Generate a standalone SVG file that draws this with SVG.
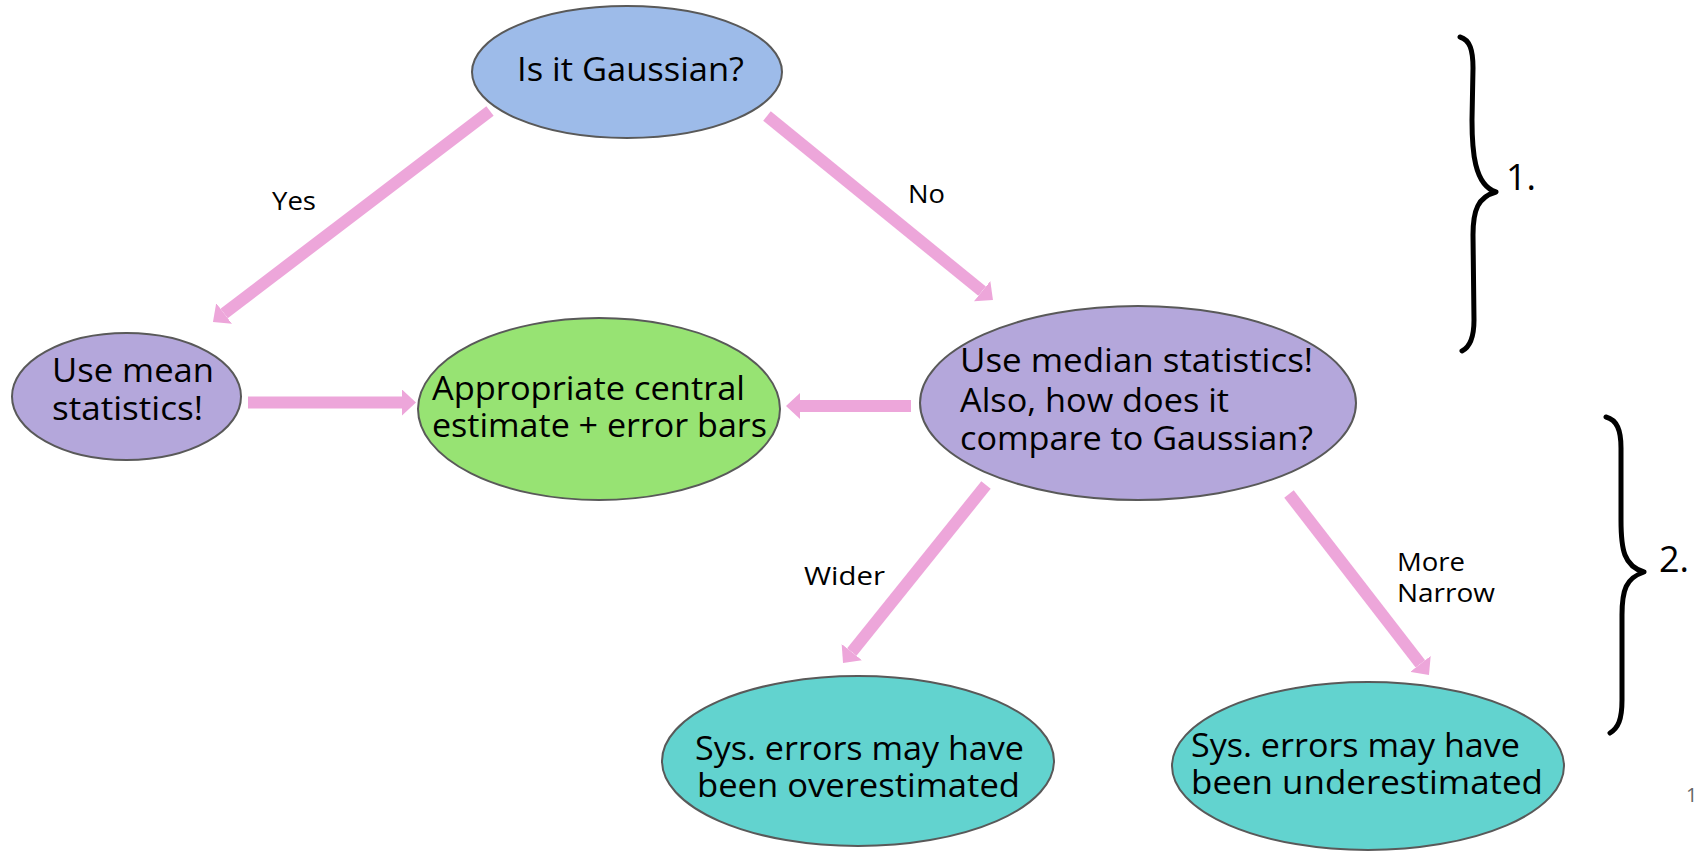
<svg xmlns="http://www.w3.org/2000/svg" width="1695" height="852" viewBox="0 0 1695 852">
<defs>
<style>
.node{stroke:#595959;stroke-width:2}
.t{font-family:"Open Sans","Liberation Sans",sans-serif;font-size:32px;fill:#000}
.lbl{font-family:"Open Sans","Liberation Sans",sans-serif;font-size:25px;fill:#000}
.conn line{stroke:#eda6da;stroke-width:12;marker-end:url(#ah)}
.brace{fill:none;stroke:#000;stroke-width:5;stroke-linecap:round;stroke-linejoin:round}
.num{font-family:"Open Sans","Liberation Sans",sans-serif;font-size:36px;fill:#000}
</style>
<marker id="ah" markerUnits="userSpaceOnUse" viewBox="0 0 14 26" markerWidth="14" markerHeight="26" refX="0" refY="13" orient="auto">
<path d="M0,0 L14,13 L0,26 z" fill="#eda6da"/>
</marker>
</defs>
<rect width="1695" height="852" fill="#fff"/>
<g id="connectors" class="conn">
<line x1="490" y1="111" x2="224.1" y2="313.5"/>
<line x1="767" y1="116" x2="982.1" y2="291.2"/>
<line x1="248" y1="402.5" x2="402" y2="402.5"/>
<line x1="911" y1="406" x2="800" y2="406"/>
<line x1="986" y1="485" x2="851.8" y2="652.1"/>
<line x1="1289" y1="494" x2="1420.4" y2="663.9"/>
</g>
<g id="edge-labels">
<text class="lbl" x="272" y="210" textLength="44" lengthAdjust="spacingAndGlyphs">Yes</text>
<text class="lbl" x="908" y="203" textLength="37" lengthAdjust="spacingAndGlyphs">No</text>
<text class="lbl" x="804" y="585" textLength="81" lengthAdjust="spacingAndGlyphs">Wider</text>
<text class="lbl" x="1397" y="571" textLength="68" lengthAdjust="spacingAndGlyphs">More</text>
<text class="lbl" x="1397" y="602" textLength="98" lengthAdjust="spacingAndGlyphs">Narrow</text>
</g>
<g id="n-gaussian">
<ellipse class="node" cx="627" cy="72" rx="155" ry="66" fill="#9dbbe9"/>
<text class="t" x="517" y="81" textLength="227" lengthAdjust="spacingAndGlyphs">Is it Gaussian?</text>
</g>
<g id="n-mean">
<ellipse class="node" cx="126.5" cy="396.5" rx="114.5" ry="63.5" fill="#b4a7db"/>
<text class="t" x="52" y="382" textLength="162" lengthAdjust="spacingAndGlyphs">Use mean</text>
<text class="t" x="52" y="420" textLength="151" lengthAdjust="spacingAndGlyphs">statistics!</text>
</g>
<g id="n-estimate">
<ellipse class="node" cx="599" cy="409" rx="181" ry="91" fill="#97e373"/>
<text class="t" x="432" y="400" textLength="313" lengthAdjust="spacingAndGlyphs">Appropriate central</text>
<text class="t" x="432" y="437" textLength="335" lengthAdjust="spacingAndGlyphs">estimate + error bars</text>
</g>
<g id="n-median">
<ellipse class="node" cx="1138" cy="403" rx="218" ry="97" fill="#b4a7db"/>
<text class="t" x="960" y="372" textLength="353" lengthAdjust="spacingAndGlyphs">Use median statistics!</text>
<text class="t" x="960" y="412" textLength="269" lengthAdjust="spacingAndGlyphs">Also, how does it</text>
<text class="t" x="960" y="450" textLength="353" lengthAdjust="spacingAndGlyphs">compare to Gaussian?</text>
</g>
<g id="n-over">
<ellipse class="node" cx="858" cy="761" rx="196" ry="85" fill="#62d3cf"/>
<text class="t" x="695" y="760" textLength="329" lengthAdjust="spacingAndGlyphs">Sys. errors may have</text>
<text class="t" x="697" y="797" textLength="323" lengthAdjust="spacingAndGlyphs">been overestimated</text>
</g>
<g id="n-under">
<ellipse class="node" cx="1368" cy="766" rx="196" ry="84" fill="#62d3cf"/>
<text class="t" x="1191" y="757" textLength="329" lengthAdjust="spacingAndGlyphs">Sys. errors may have</text>
<text class="t" x="1191" y="794" textLength="352" lengthAdjust="spacingAndGlyphs">been underestimated</text>
</g>
<g id="brace-1">
<path class="brace" d="M1460,37 C1470,40 1473,50 1473,68 L1472,120 C1472,150 1474,185 1496,192 C1478,197 1473,210 1473,235 L1474,320 C1474,338 1470,347 1462,351"/>
<text class="num" x="1506" y="190">1.</text>
</g>
<g id="brace-2">
<path class="brace" d="M1606,417 C1617,420 1621,430 1621,448 L1621,520 C1621,550 1624,566 1644,572 C1626,578 1622,590 1622,615 L1622,700 C1622,720 1618,728 1610,733"/>
<text class="num" x="1659" y="572">2.</text>
</g>
<text x="1686" y="802" font-family="'Open Sans','Liberation Sans',sans-serif" font-size="20" fill="#666">1</text>
</svg>
